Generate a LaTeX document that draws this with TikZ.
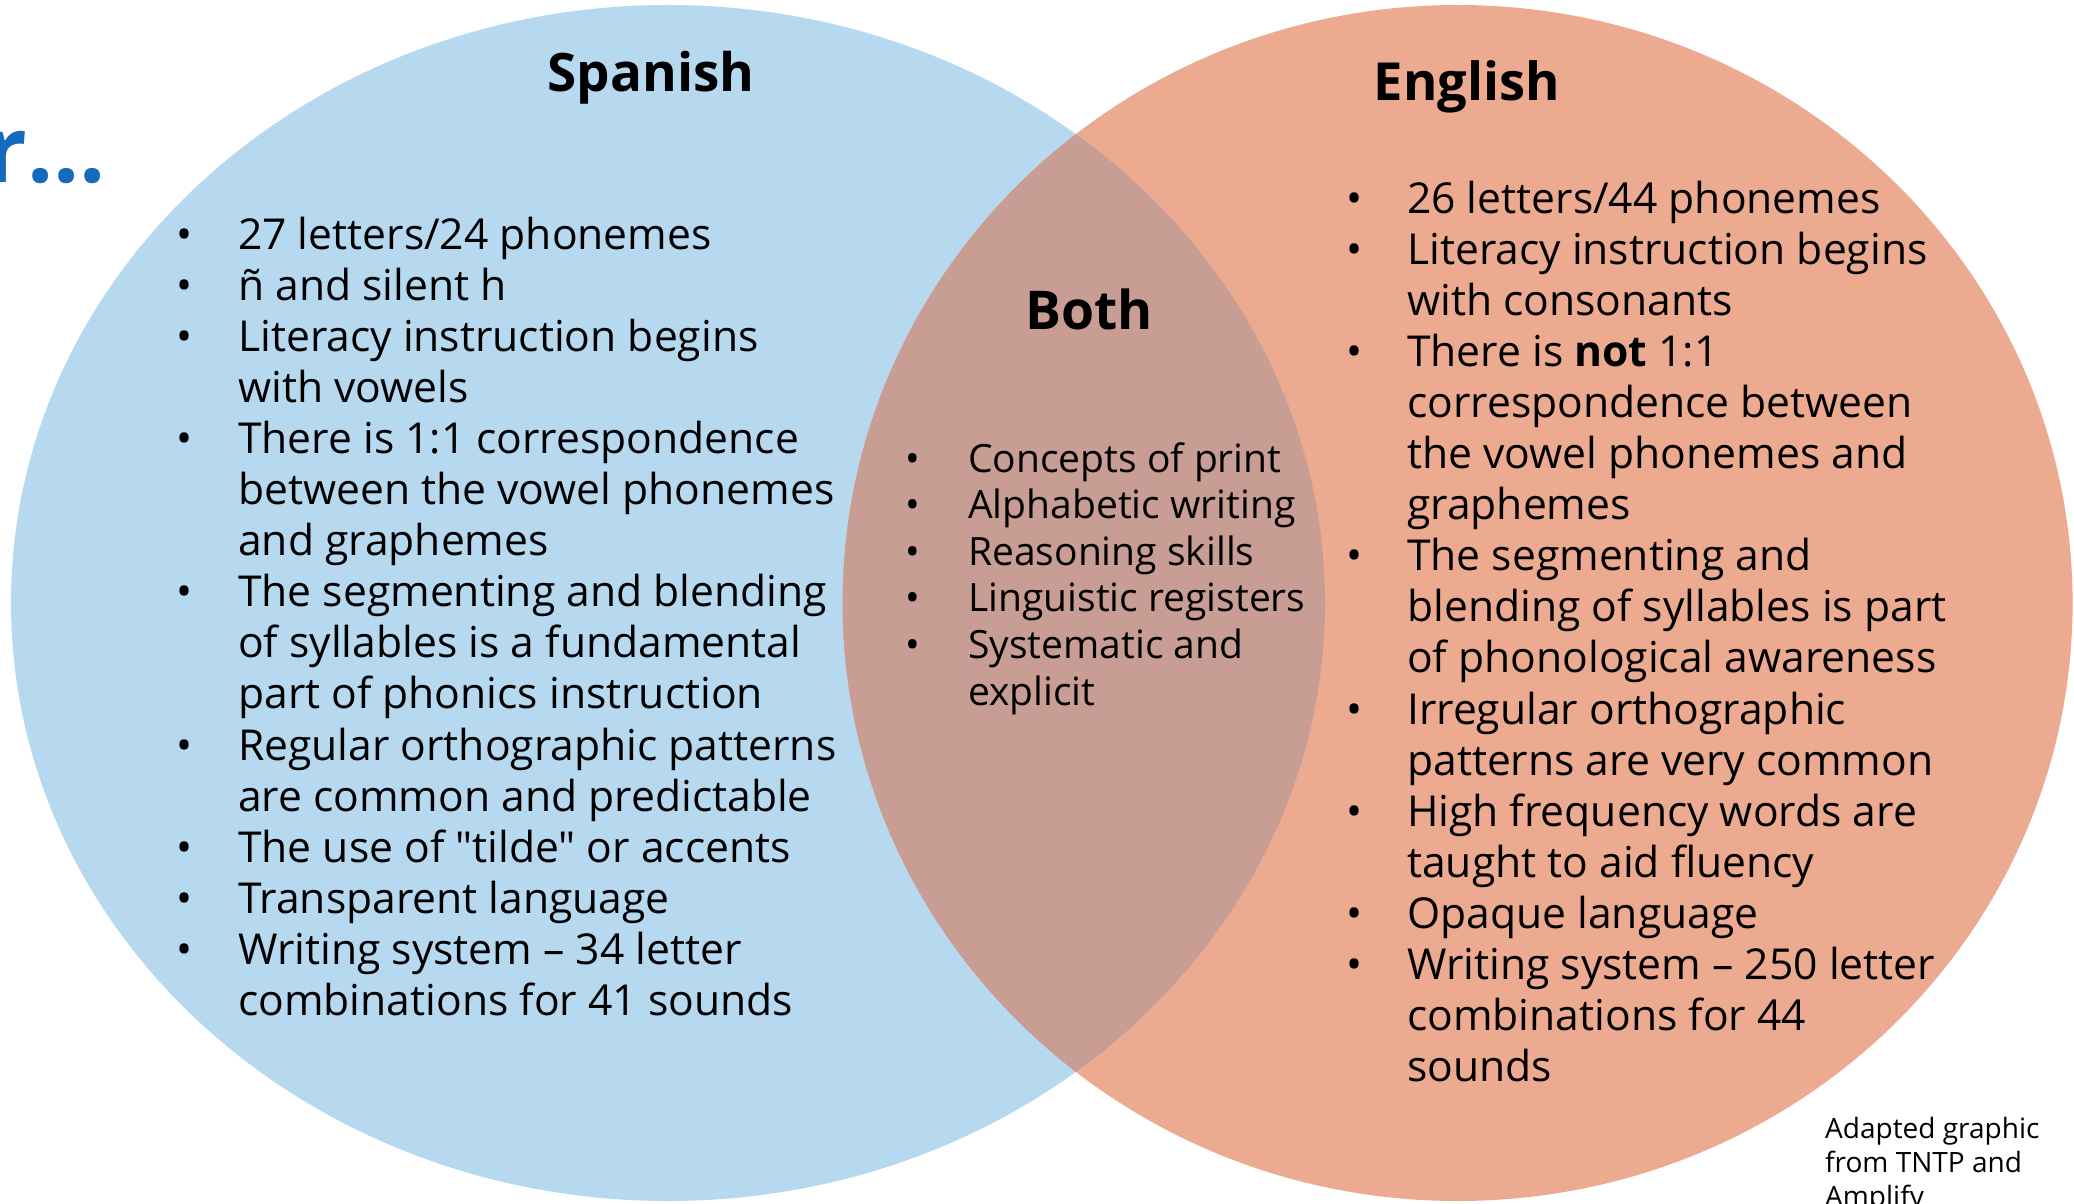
\documentclass[tikz,border=0pt]{standalone}
\usepackage{fontspec}
\setmainfont{Open Sans}[Ligatures=TeXOff]
\definecolor{spblue}{RGB}{183,217,240}
\definecolor{enorange}{RGB}{236,170,145}
\definecolor{bothlens}{RGB}{200,157,148}
\definecolor{titleblue}{RGB}{21,106,189}
\tikzset{
  body/.style={font=\fontsize{42.6}{51}\selectfont, inner sep=0pt, text=black},
  bothtxt/.style={font=\fontsize{39}{46}\selectfont, inner sep=0pt, text=black},
  heading/.style={font=\fontsize{53}{62}\selectfont\bfseries, inner sep=0pt, anchor=base},
  note/.style={font=\fontsize{28}{34}\selectfont, inner sep=0pt, anchor=base west},
}
% #1 style, #2 name, #3 bullet x, #4 text x, #5 y, #6 text
\newcommand\litem[6]{%
  \node[#1,anchor=base] (#2b) at (#3,#5) {•};
  \node[#1,anchor=base west] (#2) at (#4,#5) {#6};}
% #1 style, #2 name, #3 text x, #4 y, #5 text
\newcommand\lcont[5]{%
  \node[#1,anchor=base west] (#2) at (#3,#4) {#5};}
\begin{document}
\begin{tikzpicture}[x=1pt,y=-1pt]
\useasboundingbox (0,0) rectangle (2074,1204);
% circles
\fill[spblue] (668,603) ellipse [x radius=657, y radius=598];
\fill[enorange] (1457.6,603) ellipse [x radius=615, y radius=598];
\begin{scope}
  \clip (668,603) ellipse [x radius=657, y radius=598];
  \fill[bothlens] (1457.6,603) ellipse [x radius=615, y radius=598];
\end{scope}
% partial title
\node[font=\fontsize{92}{100}\selectfont\bfseries, text=titleblue, inner sep=0pt, anchor=base east] (ttl) at (106,182) {r...};
% headings
\node[heading] (spanish) at (651,92) {Spanish};
\node[heading, font=\fontsize{52.5}{62}\selectfont\bfseries] (english) at (1467,100.6) {English};
\node[heading, font=\fontsize{53.5}{62}\selectfont\bfseries] (both) at (1089,329) {Both};
% Spanish list
\litem{body}{s0}{185}{238}{{249+51.1*0}}{27 letters/24 phonemes}
\litem{body}{s1}{185}{238}{{249+51.1*1}}{ñ and silent h}
\litem{body}{s2}{185}{238}{{249+51.1*2}}{Literacy instruction begins}
\lcont{body}{s3}{238}{{249+51.1*3}}{with vowels}
\litem{body}{s4}{185}{238}{{249+51.1*4}}{There is 1:1 correspondence}
\lcont{body}{s5}{238}{{249+51.1*5}}{between the vowel phonemes}
\lcont{body}{s6}{238}{{249+51.1*6}}{and graphemes}
\litem{body}{s7}{185}{238}{{249+51.1*7}}{The segmenting and blending}
\lcont{body}{s8}{238}{{249+51.1*8}}{of syllables is a fundamental}
\lcont{body}{s9}{238}{{249+51.1*9}}{part of phonics instruction}
\litem{body}{s10}{185}{238}{{249+51.1*10}}{Regular orthographic patterns}
\lcont{body}{s11}{238}{{249+51.1*11}}{are common and predictable}
\litem{body}{s12}{185}{238}{{249+51.1*12}}{The use of "tilde" or accents}
\litem{body}{s13}{185}{238}{{249+51.1*13}}{Transparent language}
\litem{body}{s14}{185}{238}{{249+51.1*14}}{Writing system – 34 letter}
\lcont{body}{s15}{238}{{249+51.1*15}}{combinations for 41 sounds}
% Both list
\litem{bothtxt}{b0}{913}{968}{{472+46.6*0}}{Concepts of print}
\litem{bothtxt}{b1}{913}{968}{{472+46.6*1}}{Alphabetic writing}
\litem{bothtxt}{b2}{913}{968}{{472+46.6*2}}{Reasoning skills}
\litem{bothtxt}{b3}{913}{968}{{472+46.6*3}}{Linguistic registers}
\litem{bothtxt}{b4}{913}{968}{{472+46.6*4}}{Systematic and}
\lcont{bothtxt}{b5}{968}{{472+46.6*5}}{explicit}
% English list
\litem{body}{e0}{1354}{1407}{{213+51.1*0}}{26 letters/44 phonemes}
\litem{body}{e1}{1354}{1407}{{213+51.1*1}}{Literacy instruction begins}
\lcont{body}{e2}{1407}{{213+51.1*2}}{with consonants}
\litem{body}{e3}{1354}{1407}{{213+51.1*3}}{There is \textbf{not} 1:1}
\lcont{body}{e4}{1407}{{213+51.1*4}}{correspondence between}
\lcont{body}{e5}{1407}{{213+51.1*5}}{the vowel phonemes and}
\lcont{body}{e6}{1407}{{213+51.1*6}}{graphemes}
\litem{body}{e7}{1354}{1407}{{213+51.1*7}}{The segmenting and}
\lcont{body}{e8}{1407}{{213+51.1*8}}{blending of syllables is part}
\lcont{body}{e9}{1407}{{213+51.1*9}}{of phonological awareness}
\litem{body}{e10}{1354}{1407}{{213+51.1*10}}{Irregular orthographic}
\lcont{body}{e11}{1407}{{213+51.1*11}}{patterns are very common}
\litem{body}{e12}{1354}{1407}{{213+51.1*12}}{High frequency words are}
\lcont{body}{e13}{1407}{{213+51.1*13}}{taught to aid fluency}
\litem{body}{e14}{1354}{1407}{{213+51.1*14}}{Opaque language}
\litem{body}{e15}{1354}{1407}{{213+51.1*15}}{Writing system – 250 letter}
\lcont{body}{e16}{1407}{{213+51.1*16}}{combinations for 44}
\lcont{body}{e17}{1407}{{213+51.1*17}}{sounds}
% note
\node[note] (n1) at (1825,1138) {Adapted graphic};
\node[note] (n2) at (1825,1172) {from TNTP and};
\node[note] (n3) at (1825,1206) {Amplify};
\end{tikzpicture}
\end{document}
